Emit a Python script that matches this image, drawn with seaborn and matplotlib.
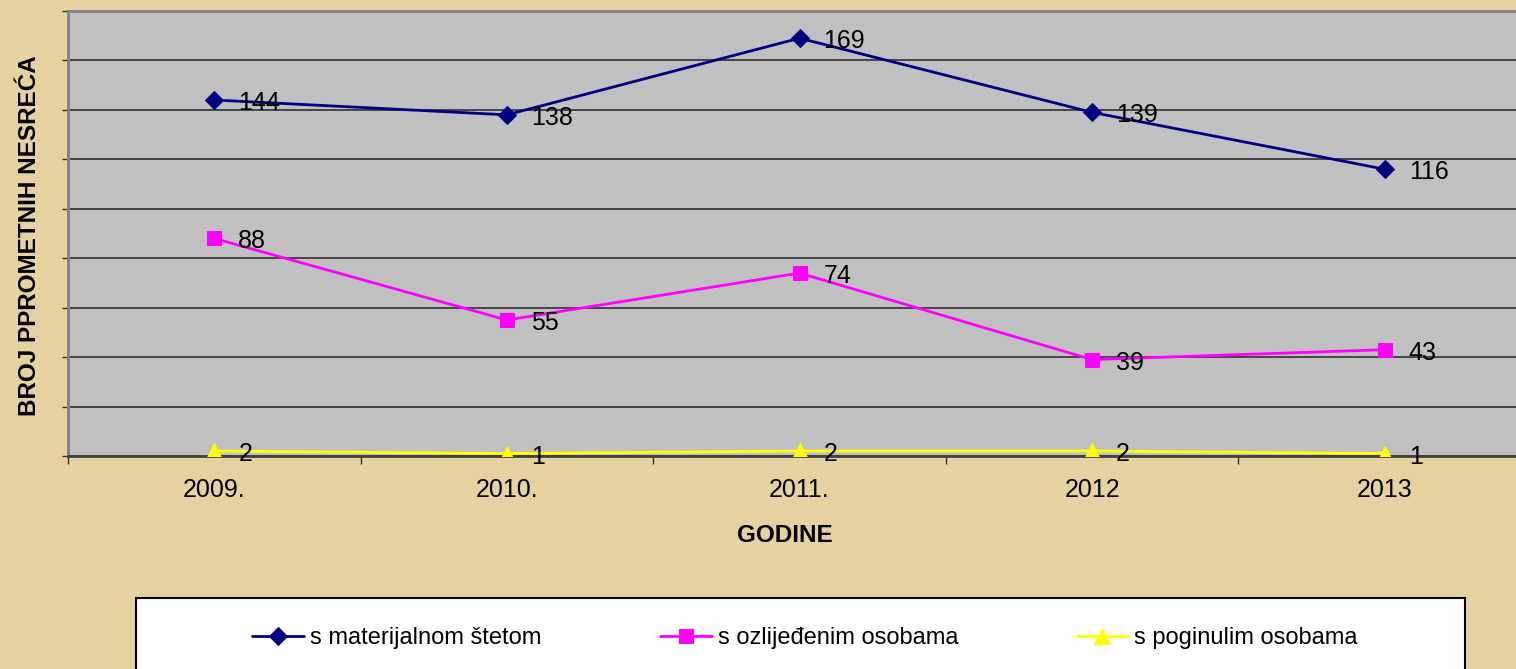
import matplotlib
matplotlib.use("Agg")
import matplotlib.pyplot as plt
import seaborn as sns
import pandas as pd
from matplotlib.patches import Rectangle
from matplotlib.ticker import MultipleLocator

years = ["2009.", "2010.", "2011.", "2012", "2013"]
materijalna = [144, 138, 169, 139, 116]
ozlijedeni = [88, 55, 74, 39, 43]
poginuli = [2, 1, 2, 2, 1]
series_names = ["s materijalnom štetom", "s ozlijeđenim osobama", "s poginulim osobama"]

sns.set_theme(style="white")
plt.rcParams["font.family"] = ["Liberation Sans", "DejaVu Sans"]
plt.rcParams["text.color"] = "black"
plt.rcParams["xtick.color"] = "black"
plt.rcParams["ytick.color"] = "black"
plt.rcParams["xtick.labelcolor"] = "black"

BG = "#E6D1A0"
fig = plt.figure(figsize=(15.16, 6.69), dpi=100, facecolor=BG)
ax = fig.add_axes([68/1516, 1-456/669, (1531-68)/1516, (456-11)/669])
ax.set_facecolor("#C0C0C0")

xpos = list(range(len(years)))
styles = [
    (materijalna, "#000080", "D", 9.5),
    (ozlijedeni, "#FF00FF", "s", 10),
    (poginuli, "#FFFF00", "^", 11),
]
handles = []
for (vals, col, mk, ms), name in zip(styles, series_names):
    df = pd.DataFrame({"x": xpos, "y": vals})
    sns.lineplot(data=df, x="x", y="y", ax=ax, color=col, marker=mk,
                 markersize=ms, markeredgecolor=col, linewidth=2,
                 label=name, legend=False, zorder=3)
    handles.append(ax.lines[-1])
    for xi, v in zip(xpos, vals):
        ax.annotate(str(v), (xi, v), xytext=(24, -3), textcoords="offset pixels",
                    va="center", ha="left", fontsize=18, color="black", zorder=4)

ax.set_xlim(-0.5, 4.5)
ax.set_ylim(0, 180)
ax.yaxis.set_major_locator(MultipleLocator(20))
ax.set_yticklabels([])
ax.grid(axis="y", color="#303030", linewidth=1.2)
ax.grid(axis="x", visible=False)
ax.set_axisbelow(True)

ax.set_xticks(xpos)
ax.set_xticklabels(years, fontsize=18, color="black")
ax.set_xticks([i - 0.5 for i in range(6)], minor=True)
ax.tick_params(axis="x", which="major", length=0, pad=16)
ax.tick_params(axis="x", which="minor", length=6, width=1, color="#303030", direction="out", bottom=True)
ax.tick_params(axis="y", which="major", length=4, width=1, color="#303030", direction="out", left=True)

for side in ["top", "left", "right"]:
    ax.spines[side].set_color("#808080")
    ax.spines[side].set_linewidth(2)
ax.spines["bottom"].set_color("#404040")
ax.spines["bottom"].set_linewidth(2)

ax.set_xlabel("")
ax.set_ylabel("")
fig.text(785/1516, 1-535/669, "GODINE", ha="center", va="center",
         fontsize=17.5, fontweight="bold", color="black")
fig.text(30/1516, 1-236/669, "BROJ PPROMETNIH NESREĆA", ha="center", va="center",
         rotation=90, fontsize=17.5, fontweight="bold", color="black")

# legend box
fig.patches.append(Rectangle((136/1516, -0.02), (1465-136)/1516, 0.02 + 1-598/669,
                             transform=fig.transFigure, facecolor="white",
                             edgecolor="black", linewidth=1.5, zorder=1))
leg = fig.legend(handles, series_names, loc="center", bbox_to_anchor=(805/1516, 1-638/669),
                 ncol=3, frameon=False, fontsize=17, handlelength=2.2, handletextpad=0.25,
                 columnspacing=5.0)
for t in leg.get_texts():
    t.set_color("black")

fig.savefig("out.png", dpi=100, facecolor=BG)
